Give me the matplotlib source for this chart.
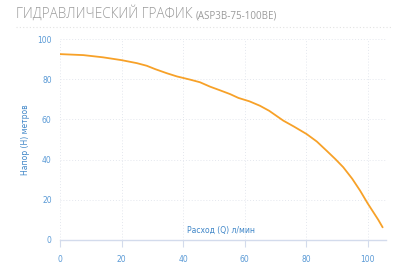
import matplotlib

matplotlib.use("Agg")
import matplotlib.pyplot as plt
from matplotlib.lines import Line2D

# напорная характеристика, значения
flow = [0, 7.6, 14, 20, 25, 28.2, 31, 34.7, 38, 42.3, 45.5, 48.8, 52, 55.3,
        58, 61.6, 65, 68, 72.6, 76, 80.2, 83.5, 86.7, 89.5, 92.1, 95, 97.6,
        100, 101.9, 103.5, 104.9]
head = [92.5, 92, 90.9, 89.5, 88, 86.7, 85, 83, 81.4, 79.8, 78.5, 76.3, 74.5,
        72.6, 70.7, 69, 66.8, 64.3, 59.4, 56.5, 52.7, 49, 44.4, 40.3, 36.2,
        30.5, 24.5, 18.3, 13.8, 10, 6.3]

x_ticks = [0, 20, 40, 60, 80, 100]
y_ticks = [0, 20, 40, 60, 80, 100]

BLUE = "#5a9ad6"
LABEL_BLUE = "#3f86c8"
GRID = "#e4e7ee"

fig = plt.figure(figsize=(4.0, 2.73), dpi=100)
ax = fig.add_axes([0.15, 0.121, 0.815, 0.736])

ax.plot(flow, head, color="#f7a128", lw=1.3, solid_capstyle="round")

ax.set_xlim(0, 106)
ax.set_ylim(0, 100)
ax.set_xticks(x_ticks)
ax.set_yticks(y_ticks)
ax.grid(True, color=GRID, lw=0.7, ls=(0, (1, 2)))
ax.set_axisbelow(True)

for s in ["top", "right", "left"]:
    ax.spines[s].set_visible(False)
ax.spines["bottom"].set_color("#d3dbec")
ax.spines["bottom"].set_linewidth(1.0)
ax.tick_params(axis="x", colors="#d3dbec", length=5, width=0.8, pad=6,
               labelcolor=BLUE, labelsize=5.5)
ax.tick_params(axis="y", length=0, pad=6, labelcolor=BLUE, labelsize=5.5)

ax.set_ylabel("Напор (H) метров", color=LABEL_BLUE, fontsize=5.5, labelpad=5)
ax.text(52.5, 2.5, "Расход (Q) л/мин", color=LABEL_BLUE, fontsize=5.5,
        ha="center", va="bottom")

t1 = fig.text(0.04, 0.934, "ГИДРАВЛИЧЕСКИЙ ГРАФИК", color="#9a9a9a",
              fontsize=9.8, fontfamily="Open Sans", fontweight="light",
              va="baseline")
fig.canvas.draw()
bb = t1.get_window_extent().transformed(fig.transFigure.inverted())
fig.text(bb.x1 + 0.008, 0.934, "(ASP3B-75-100BE)", color="#9a9a9a",
         fontsize=7, fontfamily="Open Sans", va="baseline")
fig.add_artist(Line2D([0.04, 0.98], [0.902, 0.902], transform=fig.transFigure,
                      color="#e2e2e2", lw=0.8, ls=(0, (1, 2))))

fig.savefig("out.png", dpi=100)
